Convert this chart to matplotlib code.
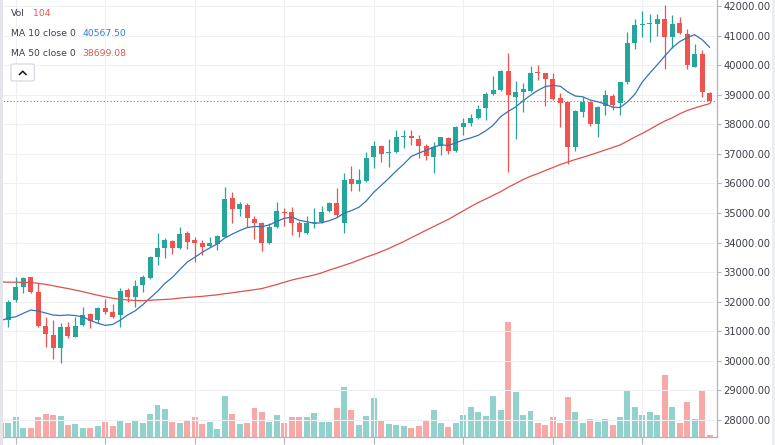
import matplotlib
matplotlib.use("Agg")
import matplotlib.pyplot as plt
import numpy as np
import pandas as pd
from matplotlib.patches import Rectangle, FancyBboxPatch
from matplotlib.lines import Line2D

# ---------------- data ----------------
opens = [31250, 31380, 32057, 32486, 32825, 32338, 31178, 30873, 30444, 31134,
         30816, 31211, 31573, 31380, 31797, 31641, 31550, 32395, 32169, 32564,
         32791, 33521, 33805, 34063, 33805, 34313, 34086, 33995, 33883, 33951,
         34198, 35496, 35124, 35270, 34796, 34671, 33995, 34536, 35043, 35043,
         34671, 34313, 34651, 34685, 35067, 35327, 34671, 36139, 35970, 36081,
         36903, 37265, 37018, 37072, 37570, 37603, 37502, 37265, 36903, 37265,
         37526, 37106, 37898, 38053, 38222, 38540, 39024, 39159, 39812, 38933,
         39108, 39135, 39785, 39724, 39531, 38889, 38743, 37221, 38425, 38763,
         38009, 38618, 38973, 38719, 39420, 40759, 41357, 41391, 41391, 41550,
         40941, 41415, 41053, 39947, 40367, 39068]
highs = [31450, 32057, 32845, 32845, 32845, 32622, 31492, 31380, 31269, 31323,
         31492, 31830, 31627, 31830, 32081, 31922, 32453, 32453, 32733, 32902,
         33545, 34313, 34144, 34086, 34536, 34401, 34198, 34086, 34198, 34255,
         35889, 35720, 35381, 35327, 34898, 34695, 34651, 35381, 35158, 35192,
         34729, 34898, 35168, 35236, 35381, 35835, 36342, 36589, 36477, 37052,
         37444, 37300, 37492, 37806, 37806, 37806, 37637, 37333, 37400, 37580,
         37559, 37942, 38202, 38347, 38652, 39102, 39633, 39836, 40421, 39450,
         39413, 39971, 40005, 39750, 39724, 39048, 38765, 38483, 38939, 38797,
         38618, 39159, 39024, 39440, 41111, 41550, 41831, 41729, 41729, 42034,
         41696, 41618, 41212, 40715, 40512, 39102]
lows = [31040, 31154, 32000, 32284, 32304, 31154, 30478, 30051, 29916, 30762,
        30816, 31178, 31120, 31289, 31583, 31458, 31154, 31979, 31830, 32338,
        32757, 33241, 33467, 33602, 33780, 33782, 33352, 33579, 33860, 33748,
        34180, 34651, 34898, 34536, 34110, 33714, 33951, 34482, 34560, 34255,
        34177, 34289, 34482, 34651, 35043, 34874, 34333, 35743, 35754, 36060,
        36511, 36734, 36545, 37040, 37214, 37299, 36876, 36792, 36342, 36961,
        36995, 37072, 37637, 37942, 38168, 38145, 38990, 39136, 36396, 37492,
        38425, 39102, 39497, 38618, 38821, 37898, 36656, 37106, 38246, 37942,
        37580, 38314, 38483, 38314, 39362, 40536, 40941, 40793, 40985, 39859,
        40569, 41053, 39859, 39927, 38933, 38709]
closes = [31400, 32000, 32507, 32811, 32338, 31178, 30897, 30423, 31134, 30839,
          31178, 31550, 31357, 31797, 31641, 31492, 32361, 32169, 32530, 32845,
          33501, 33805, 34086, 33805, 34289, 34029, 33975, 33860, 33975, 34221,
          35463, 35135, 35294, 34820, 34671, 33995, 34536, 35067, 34989, 34671,
          34367, 34671, 34705, 35043, 35348, 34932, 36115, 35970, 36115, 36870,
          37265, 36985, 37072, 37559, 37620, 37526, 37255, 36917, 37242, 37559,
          37106, 37898, 38053, 38222, 38506, 39024, 39159, 39812, 38990, 39102,
          39183, 39744, 39734, 39531, 38872, 38730, 37231, 38439, 38743, 37999,
          38594, 38990, 38652, 39420, 40759, 41357, 41391, 41435, 41550, 40941,
          41391, 41077, 40005, 40377, 39102, 38790]
volumes = [730, 730, 1040, 480, 480, 1040, 1180, 1130, 1080, 640,
           690, 480, 480, 560, 760, 570, 870, 730, 870, 740,
           1210, 1650, 1440, 780, 730, 820, 1040, 690, 780, 430,
           2120, 1180, 660, 710, 1510, 1300, 780, 1130, 740, 1040,
           1040, 1040, 1260, 760, 760, 1520, 2600, 1420, 610, 1080,
           2030, 870, 690, 640, 570, 480, 560, 870, 1390, 730,
           520, 740, 1130, 1540, 1300, 1080, 2120, 1420, 5980, 2340,
           1130, 1340, 740, 620, 1040, 730, 2080, 1300, 730, 940,
           780, 940, 620, 1040, 2440, 1560, 1140, 1300, 1140, 3220,
           1560, 730, 1820, 940, 2440, 104]
# MA10 on the first nine visible bars (earlier closes are off-screen)
ma10_head = [31360, 31448, 31492, 31606, 31719, 31685, 31617, 31550, 31533]
# MA50 as drawn (its 50-bar history is off-screen)
ma50 = [32666, 32662, 32659, 32655, 32652, 32622, 32588, 32541, 32490, 32446,
        32392, 32338, 32277, 32219, 32165, 32118, 32084, 32057, 32043, 32036,
        32050, 32064, 32077, 32091, 32125, 32145, 32162, 32182, 32209, 32233,
        32270, 32300, 32338, 32372, 32406, 32446, 32513, 32581, 32659, 32733,
        32791, 32848, 32902, 32977, 33068, 33146, 33230, 33315, 33410, 33511,
        33596, 33694, 33802, 33917, 34032, 34164, 34289, 34418, 34539, 34664,
        34786, 34932, 35074, 35219, 35354, 35473, 35598, 35720, 35869, 35997,
        36132, 36241, 36335, 36437, 36538, 36640, 36724, 36809, 36883, 36961,
        37045, 37130, 37215, 37299, 37434, 37570, 37695, 37830, 37975, 38111,
        38219, 38354, 38466, 38550, 38625, 38699]
price_ticks = list(range(28000, 42001, 1000))
time_tick_idx = [2, 14, 26, 38, 50, 62, 74, 86]
legend_vol = "104"
legend_ma10 = "40567.50"
legend_ma50 = "38699.08"

# ---------------- styling ----------------
UP = "#26a69a"
DOWN = "#ef5350"
UP_VOL = "#92d2cc"
DOWN_VOL = "#f7a9a7"
GRID = "#eef0f4"
AXIS = "#b2b5be"
TEXT = "#3b3f4a"

W, H = 775, 445
fig = plt.figure(figsize=(W / 100, H / 100), dpi=100)
rect = [0, 8 / H, 716.7 / W, 437 / H]
ax = fig.add_axes(rect)
axv = ax.twinx()
ax.set_zorder(axv.get_zorder() + 1)
ax.patch.set_visible(False)
axv.patch.set_facecolor("white")

n = len(closes)
x = np.arange(n)
o = np.array(opens, float)
c = np.array(closes, float)
h = np.array(highs, float)
l = np.array(lows, float)
up = c >= o

ax.set_xlim(-0.114, 95.96)
ax.set_ylim(27425, 42203)

# volume
vcol = [UP_VOL if u else DOWN_VOL for u in up]
axv.bar(x, volumes, width=0.8, color=vcol, linewidth=0)
axv.set_ylim(0, 437 * 52)
axv.set_yticks([])
for s in axv.spines.values():
    s.set_visible(False)

# grid
ax.set_yticks(price_ticks)
ax.set_xticks(time_tick_idx)
ax.grid(True, color=GRID, linewidth=0.8)
ax.set_axisbelow(True)

# candles
ccol = [UP if u else DOWN for u in up]
ax.vlines(x, l, h, colors=ccol, linewidth=0.9, zorder=3)
body_bottom = np.minimum(o, c)
body_h = np.maximum(np.abs(c - o), 35)
ax.bar(x, body_h, bottom=body_bottom, width=0.67, color=ccol, linewidth=0, zorder=4)

# moving averages
ma10 = pd.Series(c).rolling(10).mean().to_numpy()
ma10[:9] = ma10_head
ax.plot(x, ma10, color="#3574b8", linewidth=0.9, zorder=5)
ax.plot(x, ma50, color="#e0514b", linewidth=0.9, zorder=5)

# last price line
ax.axhline(closes[-1], color=DOWN, linewidth=0.8, linestyle=(0, (1, 2)), zorder=2)

# axes styling
ax.yaxis.tick_right()
ax.yaxis.set_label_position("right")
ax.set_yticklabels([f"{v:.2f}" for v in price_ticks])
ax.tick_params(axis="y", which="both", length=3, width=0.8, color=AXIS, pad=1.8,
               labelsize=7.2, labelcolor=TEXT)
ax.tick_params(axis="x", length=5, width=0.8, color=AXIS, labelbottom=False)
for k in ["top", "left"]:
    ax.spines[k].set_visible(False)
ax.spines["right"].set_color(AXIS)
ax.spines["bottom"].set_color(AXIS)
ax.spines["right"].set_linewidth(0.9)
ax.spines["bottom"].set_linewidth(0.9)


def fx(px):
    return px / W


def fy(py):
    return 1 - py / H


fs = 6.7
fig.text(fx(10.7), fy(13.3), "Vol", fontsize=fs, color=TEXT, va="center", ha="left")
fig.text(fx(33), fy(13.3), legend_vol, fontsize=fs, color=DOWN, va="center", ha="left")
fig.text(fx(10.7), fy(33.3), "MA 10 close 0", fontsize=fs, color=TEXT, va="center", ha="left")
fig.text(fx(82.7), fy(33.3), legend_ma10, fontsize=fs, color="#2f7fcf", va="center", ha="left")
fig.text(fx(10.7), fy(53.3), "MA 50 close 0", fontsize=fs, color=TEXT, va="center", ha="left")
fig.text(fx(82.7), fy(53.3), legend_ma50, fontsize=fs, color="#e0574f", va="center", ha="left")

# collapse button
btn = FancyBboxPatch((fx(11), fy(81)), fx(34.3) - fx(11), fy(64) - fy(81),
                     boxstyle="round,pad=0,rounding_size=0.003",
                     transform=fig.transFigure, facecolor="white",
                     edgecolor="#d1d4dc", linewidth=0.8)
fig.patches.append(btn)
fig.lines.append(Line2D([fx(19.5), fx(22.7), fx(26)], [fy(74.5), fy(71.2), fy(74.5)],
                        transform=fig.transFigure, color="#131722", linewidth=1.1))

# window edges
fig.patches.append(Rectangle((0, 0), fx(3), 1, transform=fig.transFigure,
                             facecolor="#e3e5ea", edgecolor="none", zorder=10))
fig.patches.append(Rectangle((fx(772), 0), fx(3), 1, transform=fig.transFigure,
                             facecolor="#eceef2", edgecolor="none", zorder=10))

fig.savefig("out.png", dpi=100)
